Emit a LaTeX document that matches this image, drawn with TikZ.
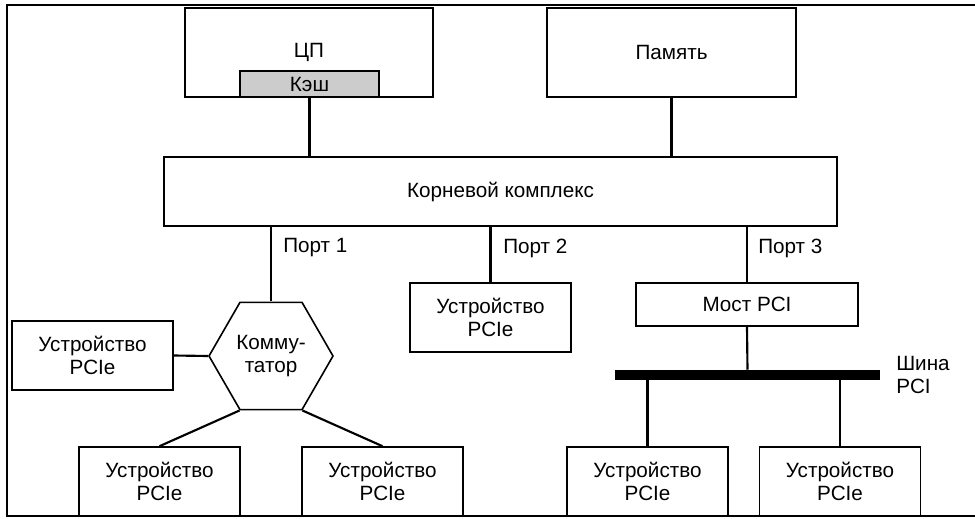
\documentclass[tikz,border=0pt]{standalone}
\usepackage{fontspec}
\setmainfont{Liberation Sans}
\usetikzlibrary{shapes.geometric}
\begin{document}
\begin{tikzpicture}[x=0.75pt,y=-0.75pt,
		every node/.style={font=\fontsize{15.5}{17.5}\selectfont},
		block/.style={draw,line width=1.2pt,inner sep=0pt},
		devbox/.style={block,minimum width=120.75pt,minimum height=51.75pt,align=center},
		link/.style={line width=1.6pt}]
		\useasboundingbox (0,0) rectangle (975,518);
		\draw [line width=1.7pt] (975,5) -- (7,5) -- (7,516) -- (975,516);

		\node [block,minimum width=186pt,minimum height=66.75pt] (CPU) at (309,52.5) {ЦП};
		\node [block,fill=black!20,minimum width=104.25pt,minimum height=19.5pt] (Cache) at (309.5,84) {Кэш};
		\node [block,minimum width=186.75pt,minimum height=66.75pt] (Memory) at (671.5,52.5) {Память};
		\node [block,minimum width=504.75pt,minimum height=51.75pt] (RootComplex) at (500.5,191.5) {Корневой комплекс};

		\node [anchor=west,inner sep=0pt] (Port1) at (283,248) {Порт 1};
		\node [anchor=west,inner sep=0pt] (Port2) at (503,248) {Порт 2};
		\node [anchor=west,inner sep=0pt] (Port3) at (758,248) {Порт 3};

		\node [block,regular polygon,regular polygon sides=6,minimum size=93pt,align=center] (Switch) at (271,356) {Комму-\\татор};
		\node [devbox] (DeviceLeft) at (92.5,355.5) {Устройство\\PCIe};
		\node [devbox] (DeviceA) at (159.5,481.5) {Устройство\\PCIe};
		\node [devbox] (DeviceB) at (382.5,481.5) {Устройство\\PCIe};
		\node [devbox] (DeviceMid) at (490.5,317.5) {Устройство\\PCIe};
		\node [block,minimum width=166.5pt,minimum height=32.25pt] (Bridge) at (747,304.5) {Мост PCI};
		\node [fill=black,inner sep=0pt,minimum width=198.75pt,minimum height=7.5pt] (Bus) at (747.5,375) {};
		\node [anchor=west,align=left,inner sep=0pt] (BusLabel) at (896,375) {Шина\\PCI};
		\node [devbox] (DeviceC) at (647.5,481.5) {Устройство\\PCIe};
		\node [devbox] (DeviceD) at (840,481.5) {Устройство\\PCIe};

		\draw [link] (Cache.south) -- (Cache.south |- RootComplex.north);
		\draw [link] (Memory.south) -- (Memory.south |- RootComplex.north);

		\draw [link] (Switch.north |- RootComplex.south) -- (Switch.north);
		\draw [link] (DeviceMid.north |- RootComplex.south) -- (DeviceMid.north);
		\draw [link] (Bridge.north |- RootComplex.south) -- (Bridge.north);

		\draw [link] (DeviceLeft.east) -- (Switch.180);
		\draw [link] (Switch.240) -- (DeviceA.north);
		\draw [link] (Switch.300) -- (DeviceB.north);

		\draw [link] (Bridge.south) -- (Bus.north);
		\draw [link] (Bus.south -| DeviceC.north) -- (DeviceC.north);
		\draw [link] (Bus.south -| DeviceD.north) -- (DeviceD.north);
	\end{tikzpicture}
\end{document}
